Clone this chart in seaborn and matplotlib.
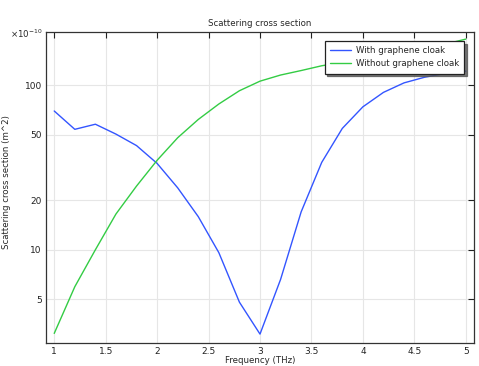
import matplotlib
matplotlib.use("Agg")
import matplotlib.pyplot as plt
import seaborn as sns
import numpy as np
import pandas as pd
from matplotlib.ticker import FixedLocator, FixedFormatter, NullLocator
from matplotlib.lines import Line2D

freq = [1.0, 1.2, 1.4, 1.6, 1.8, 2.0, 2.2, 2.4, 2.6, 2.8, 3.0,
        3.2, 3.4, 3.6, 3.8, 4.0, 4.2, 4.4, 4.6, 4.8, 5.0]
with_cloak = [69.8, 54.0, 58.0, 50.5, 43.0, 33.5, 23.8, 15.9, 9.6, 4.8, 3.07,
              6.6, 17.0, 34.0, 54.7, 74.0, 90.6, 103.5, 112.0, 118.0, 122.0]
without_cloak = [3.1, 5.96, 10.0, 16.5, 24.4, 35.0, 48.0, 62.0, 77.0, 92.7, 106.0,
                 115.5, 123.0, 131.5, 138.0, 144.0, 150.0, 158.0, 167.0, 178.0, 191.0]
series_names = ["With graphene cloak", "Without graphene cloak"]
xticks = [1, 1.5, 2, 2.5, 3, 3.5, 4, 4.5, 5]
xtick_labels = ["1", "1.5", "2", "2.5", "3", "3.5", "4", "4.5", "5"]
yticks = [5, 10, 20, 50, 100]
ytick_labels = ["5", "10", "20", "50", "100"]

df = pd.DataFrame({
    "freq": freq * 2,
    "value": with_cloak + without_cloak,
    "series": [series_names[0]] * len(freq) + [series_names[1]] * len(freq),
})

sns.set_style("white")
plt.rcParams["font.family"] = ["DejaVu Sans"]

fig = plt.figure(figsize=(4.79, 3.66), dpi=100)
ax = fig.add_axes([46 / 479, 1 - 343 / 366, (474 - 46) / 479, (343 - 32) / 366])

colors = ["#3355ff", "#33cc44"]
sns.lineplot(data=df, x="freq", y="value", hue="series",
             palette=colors, linewidth=1.0, ax=ax, legend=False)

ax.set_yscale("log")
ax.set_xlim(0.92, 5.08)
ax.set_ylim(2.71, 211)

ax.xaxis.set_major_locator(FixedLocator(xticks))
ax.xaxis.set_major_formatter(FixedFormatter(xtick_labels))
ax.yaxis.set_major_locator(FixedLocator(yticks))
ax.yaxis.set_major_formatter(FixedFormatter(ytick_labels))
ax.yaxis.set_minor_locator(NullLocator())
ax.xaxis.set_minor_locator(NullLocator())

ax.tick_params(axis="both", which="major", direction="in", length=4, width=0.8,
               top=True, right=True, labelsize=6.5, colors="#222222", pad=3)
ax.grid(True, color="#e6e6e6", linewidth=0.8)
for s in ax.spines.values():
    s.set_color("#333333")
    s.set_linewidth(0.9)

ax.set_xlabel("Frequency (THz)", fontsize=6.2, labelpad=0)
ax.set_ylabel("Scattering cross section (m^2)", fontsize=6.2)
ax.yaxis.set_label_coords(-(46 - 11) / 428, (343 - 182) / 311)
ax.set_title("Scattering cross section", fontsize=6.2, pad=4)
fig.text(10 / 479, 1 - 34 / 366, "×10$^{-10}$", fontsize=6.2, ha="left", va="center")

handles = [Line2D([0], [0], color=colors[0], lw=1.0),
           Line2D([0], [0], color=colors[1], lw=1.0)]
leg = ax.legend(handles, series_names, loc="upper right", fontsize=6.2,
                bbox_to_anchor=((464 - 46) / 428, (343 - 41) / 311),
                borderaxespad=0, frameon=True, fancybox=False,
                shadow={"color": "#555555", "alpha": 0.8}, borderpad=0.6,
                handlelength=2.5, handletextpad=0.5, labelspacing=0.5, framealpha=1)
leg.get_frame().set_edgecolor("#222222")
leg.get_frame().set_linewidth(0.9)

fig.savefig("out.png", dpi=100)
